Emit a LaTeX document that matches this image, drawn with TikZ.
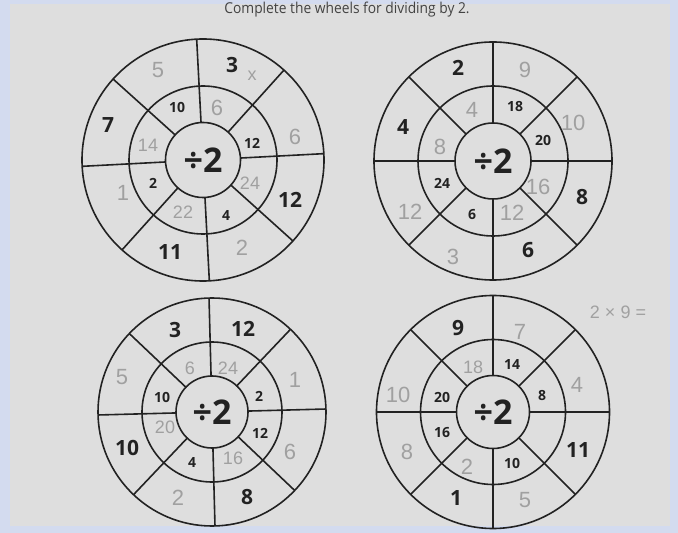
\documentclass[tikz,border=0pt]{standalone}
\usepackage{fontspec}
\setmainfont{Open Sans}
\newfontfamily\hand{Liberation Sans}
\definecolor{edgeblue}{HTML}{D3DBEF}
\definecolor{paper}{HTML}{DEDEDE}
\definecolor{ink}{HTML}{222222}
\definecolor{pencil}{HTML}{A0A0A0}
\newcommand\mywheel[7]{%
  \coordinate (#1) at (#2,#3);
  \draw[wl] (#1) circle[radius=#4*0.5pt];
  \draw[wl] (#1) circle[radius=#5*0.5pt];
  \draw[wl] (#1) circle[radius=#6*0.5pt];
  \foreach \a in {0,45,...,315}{%
    \draw[wl,shift={(#1)}] (\a+#7:#6*0.5pt) -- (\a+#7:#4*0.5pt);}%
  \node[ctr] (#1c) at (#1) {÷2};}
\begin{document}
\begin{tikzpicture}[x=0.5pt,y=-0.5pt,
  wl/.style={draw=ink,line width=0.8pt},
  pr/.style={text=ink,font=\fontsize{10.5}{12}\selectfont\bfseries,inner sep=0pt},
  sm/.style={text=ink,font=\fontsize{7}{8}\selectfont\bfseries,inner sep=0pt},
  hw/.style={text=pencil,font=\hand\fontsize{11}{12}\selectfont,inner sep=0pt},
  hws/.style={text=pencil,font=\hand\fontsize{9}{10}\selectfont,inner sep=0pt},
  ctr/.style={text=ink,font=\fontsize{17}{18}\selectfont\bfseries,inner sep=0pt}]
\useasboundingbox (0,0) rectangle (678,533);
\clip (0,0) rectangle (678,533);
\fill[edgeblue] (0,0) rectangle (678,533);
\fill[paper] (10,4) rectangle (670,526);
\node[text=ink!85,font=\fontsize{7.5}{9}\selectfont,xscale=0.92,anchor=base,inner sep=0pt] (title) at (347,14) {Complete the wheels for dividing by 2.};
% wheels
\mywheel{wa}{203}{160}{121}{74}{37.5}{3}
\mywheel{wb}{493}{161}{119}{75}{38}{0}
\mywheel{wc}{212}{412}{114}{70}{36}{1.5}
\mywheel{wd}{493}{412}{116.5}{72.5}{36.5}{0}
% wheel 1
\node[hw] (a1) at (158,70) {5};
\node[pr] (a2) at (232,65) {3};
\node[hws] (a3) at (252,76) {x};
\node[pr] (a4) at (108,125) {7};
\node[hw] (a5) at (295,137) {6};
\node[hw] (a6) at (123,193) {1};
\node[pr] (a7) at (290,200) {12};
\node[pr] (a8) at (170,252) {11};
\node[hw] (a9) at (242,248) {2};
\node[sm] (a10) at (177,107) {10};
\node[hw] (a11) at (217,108) {6};
\node[hws] (a12) at (148,145) {14};
\node[sm] (a13) at (252,143) {12};
\node[sm] (a14) at (153,183) {2};
\node[hws] (a15) at (250,183) {24};
\node[hws] (a16) at (183,212) {22};
\node[sm] (a17) at (226,216) {4};
% wheel 2
\node[pr] (b1) at (458,68) {2};
\node[hw] (b2) at (525,70) {9};
\node[pr] (b3) at (403,127) {4};
\node[hw] (b4) at (573,123) {10};
\node[hw] (b5) at (410,212) {12};
\node[pr] (b6) at (582,197) {8};
\node[hw] (b7) at (453,257) {3};
\node[pr] (b8) at (528,250) {6};
\node[hw] (b9) at (472,110) {4};
\node[sm] (b10) at (515,107) {18};
\node[hw] (b11) at (440,147) {8};
\node[sm] (b12) at (543,140) {20};
\node[sm] (b13) at (442,183) {24};
\node[hw] (b14) at (538,187) {16};
\node[sm] (b15) at (472,215) {6};
\node[hw] (b16) at (512,213) {12};
% wheel 3
\node[pr] (c1) at (175,330) {3};
\node[pr] (c2) at (243,329) {12};
\node[hw] (c3) at (122,377) {5};
\node[hw] (c4) at (295,380) {1};
\node[pr] (c5) at (127,448) {10};
\node[hw] (c6) at (290,452) {6};
\node[hw] (c7) at (178,498) {2};
\node[pr] (c8) at (247,497) {8};
\node[hws] (c9) at (190,368) {6};
\node[hws] (c10) at (228,368) {24};
\node[sm] (c11) at (162,397) {10};
\node[sm] (c12) at (259,396) {2};
\node[hws] (c13) at (165,427) {20};
\node[sm] (c14) at (260,433) {12};
\node[sm] (c15) at (192,463) {4};
\node[hws] (c16) at (233,458) {16};
% wheel 4
\node[pr] (d1) at (458,328) {9};
\node[hw] (d2) at (520,332) {7};
\node[hw] (d3) at (398,395) {10};
\node[hw] (d4) at (577,385) {4};
\node[hw] (d5) at (407,452) {8};
\node[pr] (d6) at (578,450) {11};
\node[pr] (d7) at (456,498) {1};
\node[hw] (d8) at (525,500) {5};
\node[hws] (d9) at (473,367) {18};
\node[sm] (d10) at (512,365) {14};
\node[sm] (d11) at (442,397) {20};
\node[sm] (d12) at (542,396) {8};
\node[sm] (d13) at (442,433) {16};
\node[hw] (d14) at (467,467) {2};
\node[sm] (d15) at (512,463) {10};
\node[hws] (note) at (618,312) {2 × 9 =};
\end{tikzpicture}
\end{document}
